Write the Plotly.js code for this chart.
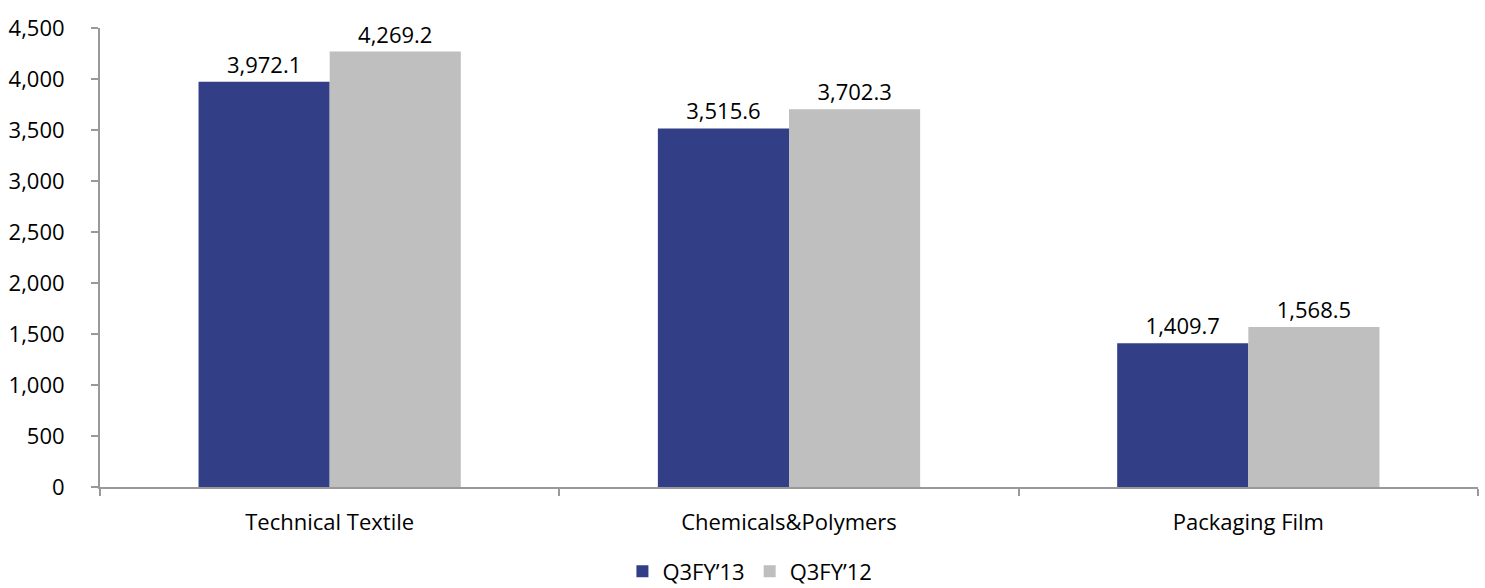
<!DOCTYPE html>
<html>
<head>
<meta charset="utf-8">
<script src="https://cdn.plot.ly/plotly-3.0.1.min.js"></script>
<style>html,body{margin:0;padding:0;background:#fff}#chart{width:1485px;height:588px}</style>
</head>
<body>
<div id="chart"></div>
<script>
var categories = ["Technical Textile", "Chemicals&Polymers", "Packaging Film"];
var seriesNames = ["Q3FY\u201913", "Q3FY\u201912"];
var q3fy13 = [3972.1, 3515.6, 1409.7];
var q3fy12 = [4269.2, 3702.3, 1568.5];
var yTicks = [0, 500, 1000, 1500, 2000, 2500, 3000, 3500, 4000, 4500];

var fontFam = "'Open Sans', Lato, sans-serif";
var fs = 22;
var traces = [
  {type: "bar", name: seriesNames[0], x: categories, y: q3fy13,
   marker: {color: "#323F87"}, texttemplate: "%{y:,.1f}", textposition: "outside",
   textfont: {size: fs, color: "#000", family: fontFam}, cliponaxis: false, hoverinfo: "none"},
  {type: "bar", name: seriesNames[1], x: categories, y: q3fy12,
   marker: {color: "#BFBFBF"}, texttemplate: "%{y:,.1f}", textposition: "outside",
   textfont: {size: fs, color: "#000", family: fontFam}, cliponaxis: false, hoverinfo: "none"}
];

var layout = {
  width: 1485, height: 588,
  margin: {l: 100, r: 7, t: 28, b: 101, autoexpand: false},
  paper_bgcolor: "#fff", plot_bgcolor: "#fff",
  font: {family: fontFam, size: fs, color: "#000"},
  barmode: "group", bargap: 0.429, bargroupgap: 0,
  showlegend: true,
  legend: {orientation: "h", xref: "container", yref: "container",
           x: 0.505, xanchor: "center", y: 0.028, yanchor: "middle",
           font: {size: fs, family: fontFam}, itemwidth: 30, traceorder: "normal"},
  xaxis: {type: "category", showline: true, linecolor: "#999", linewidth: 2,
          ticks: "outside", tickson: "boundaries", ticklen: 7, tickcolor: "#999", tickwidth: 2,
          showgrid: false, zeroline: false, ticklabelstandoff: 15, automargin: false,
          tickfont: {size: fs, family: fontFam}},
  yaxis: {range: [0, 4500], tickvals: yTicks, tickformat: ",", showline: true,
          linecolor: "#999", linewidth: 2, ticks: "outside", ticklen: 7, tickcolor: "#999", tickwidth: 2,
          showgrid: false, zeroline: false, ticklabelstandoff: 22, automargin: false,
          tickfont: {size: fs, family: fontFam}}
};

Plotly.newPlot("chart", traces, layout, {staticPlot: true, displayModeBar: false});
</script>
</body>
</html>
